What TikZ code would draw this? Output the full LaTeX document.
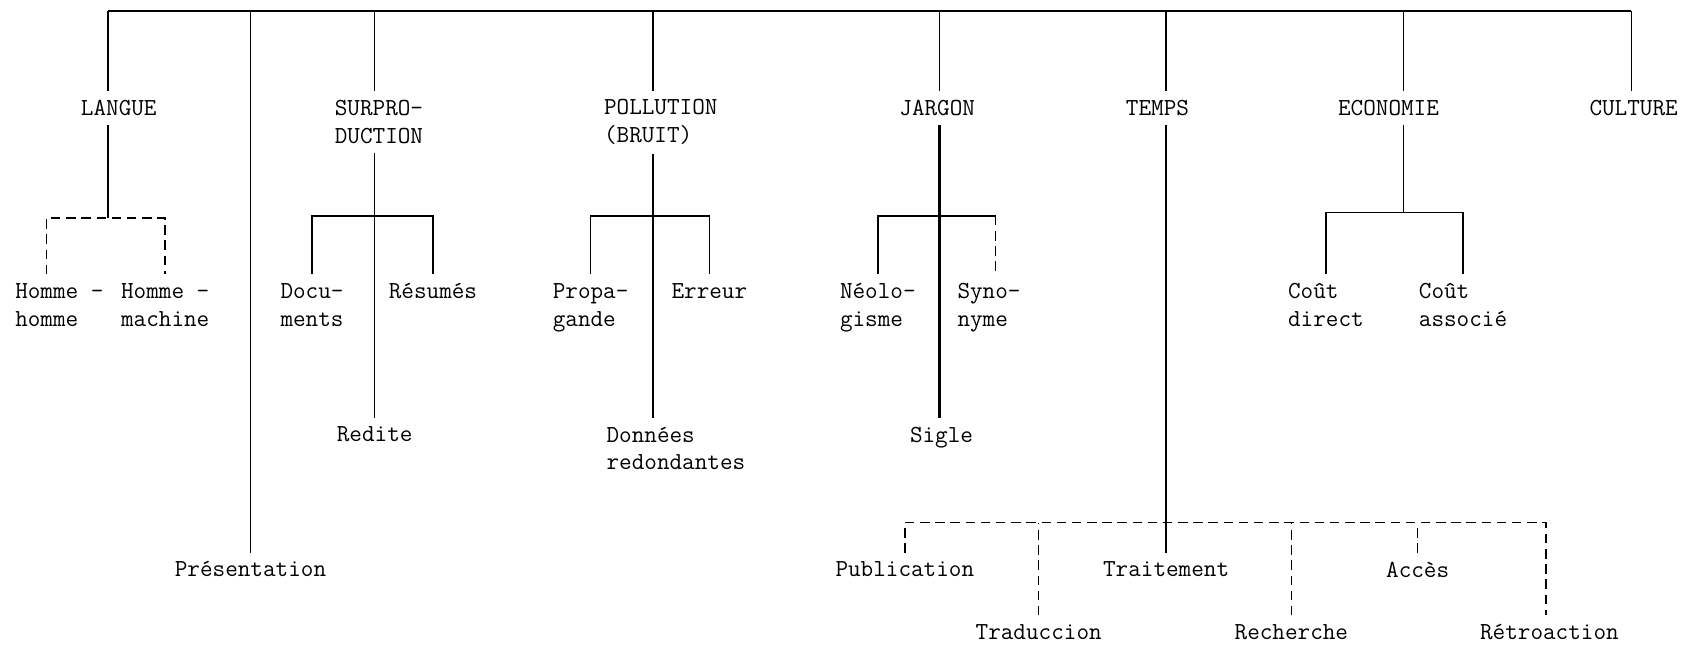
\documentclass[tikz,border=0pt]{standalone}
\usetikzlibrary{positioning}
\newcommand{\diagfont}{\ttfamily\fontsize{12.9}{14.7}\selectfont}

\begin{document}
\begin{tikzpicture}[x=0.02cm, y=-0.02cm,
    cat/.style={font=\diagfont, align=center, inner xsep=2pt, inner ysep=4.5pt},
    leaf/.style={font=\diagfont, align=left, anchor=north, inner xsep=2pt, inner ysep=4.5pt},
    link/.style={line width=0.8pt},
    dlink/.style={line width=0.8pt, dash pattern=on 5pt off 3pt}]

  \useasboundingbox (0,0) rectangle (1568,606);

  % main themes
  \node[cat] (langue) at (110,100) {LANGUE};
  \node[cat, align=left] (surpro) at (351,113) {SURPRO-\\DUCTION};
  \node[cat, align=left] (pollu) at (612,113) {POLLUTION\\(BRUIT)};
  \node[cat] (jargon) at (868,100) {JARGON};
  \node[cat] (temps) at (1072,100) {TEMPS};
  \node[cat] (eco) at (1286,100) {ECONOMIE};
  \node[cat] (culture) at (1513,100) {CULTURE};

  % columns on the top bar
  \coordinate (c-lang) at (100,10);
  \coordinate (c-pres) at (232,10);
  \coordinate (c-sur) at (347,10);
  \coordinate (c-pol) at (605,10);
  \coordinate (c-jar) at (870,10);
  \coordinate (c-tem) at (1080,10);
  \coordinate (c-eco) at (1300,10);
  \coordinate (c-cul) at (1511,10);

  % forks
  \coordinate (f-lang) at (100,202);
  \coordinate (f-sur) at (347,200);
  \coordinate (f-pol) at (605,200);
  \coordinate (f-jar) at (870,200);
  \coordinate (f-eco) at (1300,197);
  \coordinate (f-tem) at (1080,484);

  % second level
  \node[leaf] (hh) at (55,254) {Homme -\\homme};
  \node[leaf] (hm) at (153,254) {Homme -\\machine};
  \node[leaf] (docs) at (289,254) {Docu-\\ments};
  \node[leaf] (resumes) at (401,254) {Résumés};
  \node[leaf] (propa) at (547,254) {Propa-\\gande};
  \node[leaf] (erreur) at (657,254) {Erreur};
  \node[leaf] (neolo) at (813,254) {Néolo-\\gisme};
  \node[leaf] (syno) at (916,254) {Syno-\\nyme};
  \node[leaf] (coutd) at (1228,254) {Coût\\direct};
  \node[leaf] (couta) at (1355,254) {Coût\\associé};

  % lower level
  \node[leaf] (redite) at (347,387) {Redite};
  \node[leaf] (donnees) at (626,387) {Données\\redondantes};
  \node[leaf] (sigle) at (872,387) {Sigle};
  \node[leaf] (pres) at (232,512) {Présentation};
  \node[leaf] (pub) at (838,512) {Publication};
  \node[leaf] (trait) at (1080,512) {Traitement};
  \node[leaf] (acces) at (1313,512) {Accès};
  \node[leaf] (trad) at (962,570) {Traduccion};
  \node[leaf] (rech) at (1196,570) {Recherche};
  \node[leaf] (retro) at (1435,570) {Rétroaction};

  % top bar
  \draw[link] (c-lang) -- (c-cul);
  \foreach \c/\n in {lang/langue, sur/surpro, pol/pollu, jar/jargon, tem/temps, eco/eco, cul/culture}
    \draw[link] (c-\c) -- (c-\c |- \n.north);
  \draw[link] (c-pres) -- (pres.north);

  % LANGUE
  \draw[link] (c-lang |- langue.south) -- (f-lang);
  \draw[dlink] ([xshift=-0.24cm]hh.north) |- (f-lang) -| (hm.north);

  % SURPRODUCTION
  \draw[link] (c-sur |- surpro.south) -- (c-sur |- redite.north);
  \draw[link] (docs.north) |- (f-sur) -| (resumes.north);

  % POLLUTION
  \draw[link] (c-pol |- pollu.south) -- (c-pol |- donnees.north);
  \draw[link] (propa.north) |- (f-pol) -| (erreur.north);

  % JARGON
  \draw[line width=1.2pt] (c-jar |- jargon.south) -- (c-jar |- sigle.north);
  \draw[link] (neolo.north) |- (f-jar) -- ([xshift=0.12cm]f-jar -| syno.north);
  \draw[dlink] ([xshift=0.12cm]f-jar -| syno.north) -- ([xshift=0.12cm]syno.north);

  % TEMPS
  \draw[link] (c-tem |- temps.south) -- (trait.north);
  \draw[dlink] (pub.north) |- (f-tem) -| ([xshift=-0.06cm]retro.north);
  \foreach \n in {trad, rech, acces}
    \draw[dlink] (\n.north) -- (\n.north |- f-tem);

  % ECONOMIE
  \draw[link] (c-eco |- eco.south) -- (f-eco);
  \draw[link] (coutd.north) |- (f-eco) -| (couta.north);
\end{tikzpicture}
\end{document}
